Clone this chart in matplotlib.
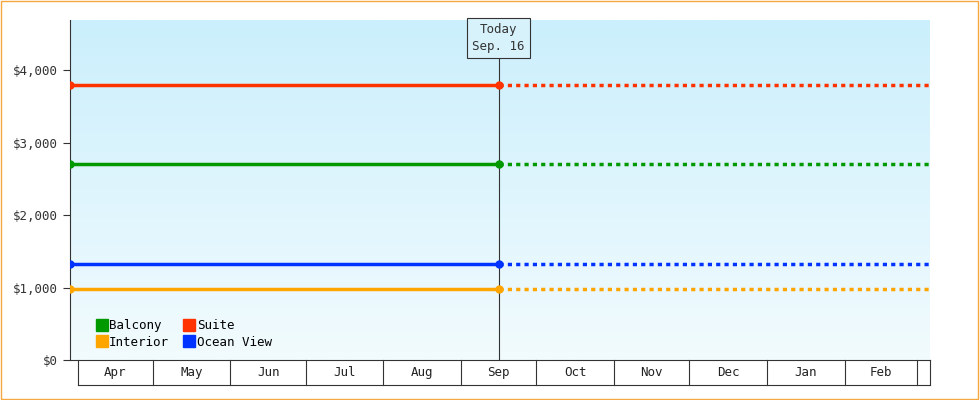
import matplotlib
matplotlib.use("Agg")
import matplotlib.pyplot as plt
import numpy as np
import datetime as dt
import matplotlib.dates as mdates
from matplotlib.patches import Rectangle
from matplotlib.colors import LinearSegmentedColormap
from matplotlib.lines import Line2D

series = ["Balcony", "Suite", "Interior", "Ocean View"]
values = [2700, 3800, 985, 1325]
colors = ["#009900", "#ff3300", "#ffa500", "#0033ff"]
start = dt.date(2023, 3, 29)
today = dt.date(2023, 9, 16)
end = dt.date(2024, 3, 6)
months = ["Apr","May","Jun","Jul","Aug","Sep","Oct","Nov","Dec","Jan","Feb","Mar"]
month_starts = [dt.date(2023, m, 1) for m in range(4, 13)] + [dt.date(2024, m, 1) for m in range(1, 5)]

plt.rcParams['font.family'] = ['DejaVu Sans Mono']
FS = 9
fig = plt.figure(figsize=(9.8, 4.0), dpi=100)
fig.patches.append(Rectangle((0.001, 0.002), 0.997, 0.995, transform=fig.transFigure,
                             fill=False, edgecolor="#f5a742", lw=1))
ax = fig.add_axes([70/980, 40/400, 860/980, 340/400])
x0, x1, xt = mdates.date2num(start), mdates.date2num(end), mdates.date2num(today)
ax.set_xlim(x0, x1)
ax.set_ylim(0, 4690)
grad = np.linspace(0, 1, 256).reshape(-1, 1)
cm = LinearSegmentedColormap.from_list("g", ["#f2fbfe", "#cbeffc"])
ax.imshow(grad, aspect="auto", cmap=cm, origin="lower", extent=[x0, x1, 0, 4690], zorder=0)

for name, v, c in zip(series, values, colors):
    ax.plot([x0, xt], [v, v], color=c, lw=2.5, zorder=3)
    ax.plot([x0, xt], [v, v], 'o', color=c, ms=5, zorder=4)
    ax.plot([xt, x1], [v, v], color=c, lw=2.5, ls=(0, (1.2, 1.2)), zorder=3)

ax.axvline(xt, color="#333333", lw=0.8, zorder=2)
ax.text(xt, 4440, "Today\nSep. 16", ha="center", va="center", fontsize=FS, color="#333",
        bbox=dict(boxstyle="square,pad=0.4", fc="#d8f2fc", ec="#333", lw=0.8), zorder=5, linespacing=1.4)

ax.set_yticks([0, 1000, 2000, 3000, 4000])
ax.set_yticklabels(["$0", "$1,000", "$2,000", "$3,000", "$4,000"], fontsize=FS, color="#333")
ax.set_xticks([])
for s in ["top", "right"]:
    ax.spines[s].set_visible(False)
ax.spines["left"].set_color("#333")
ax.spines["bottom"].set_color("#333")
ax.tick_params(axis="y", length=5, color="#333")

tr = ax.get_xaxis_transform()
ms = [mdates.date2num(d) for d in month_starts]
bottom = -25/340
for i, m in enumerate(months):
    a, b = ms[i], min(ms[i+1], x1)
    if a >= x1:
        break
    ax.plot([a, a], [0, bottom], transform=tr, color="#333", lw=0.8, clip_on=False)
    if b - a > 20:
        ax.text((a+b)/2, bottom/2, m, transform=tr, ha="center", va="center", fontsize=FS, color="#222")
ax.plot([ms[0], x1], [bottom, bottom], transform=tr, color="#333", lw=0.8, clip_on=False)
ax.plot([x1, x1], [0, bottom], transform=tr, color="#333", lw=0.8, clip_on=False)

order = [0, 2, 1, 3]
handles = [Line2D([], [], marker="s", ls="", color=colors[i], ms=8) for i in order]
ax.legend(handles, [series[i] for i in order], ncol=2, loc="lower left",
          bbox_to_anchor=(0.015, 0.0), frameon=False, fontsize=FS,
          handletextpad=0.0, columnspacing=1.0, labelspacing=0.3, handlelength=1.2)
fig.savefig("out.png", dpi=100)
